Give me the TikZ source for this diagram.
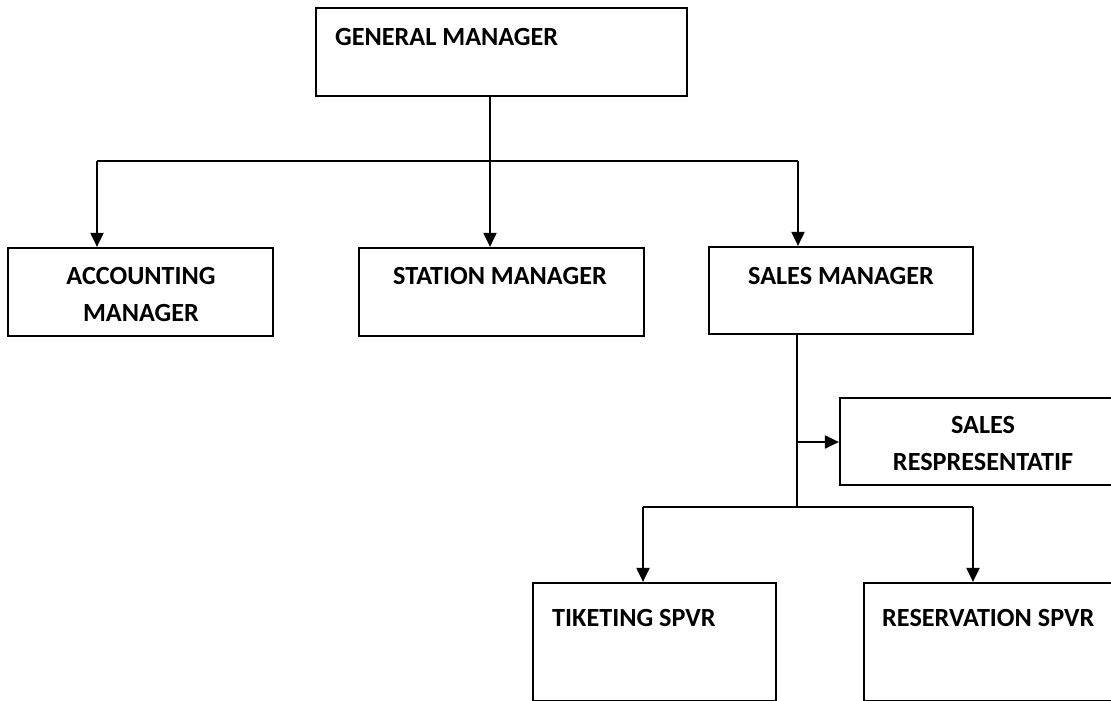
\documentclass[tikz,border=0pt]{standalone}
\usepackage{fontspec}
\setmainfont{Carlito}
\usetikzlibrary{arrows.meta}
\tikzset{
  box/.style={draw, line width=2.2pt, rectangle, inner sep=0pt},
  lbl/.style={inner sep=0pt, font=\bfseries\fontsize{26.2}{37}\selectfont, align=center},
  conn/.style={line width=2pt},
  arr/.style={line width=2pt, -{Triangle[length=14pt,width=13pt]}}
}
\begin{document}
\begin{tikzpicture}[x=1pt,y=-1pt]
\useasboundingbox (0,0) rectangle (1111,701);
\clip (0,0) rectangle (1111,701);
% boxes
\node[box, minimum width=371pt, minimum height=88pt] (gm) at (501.5,52) {};
\node[box, minimum width=265pt, minimum height=88pt] (acc) at (140.5,292) {};
\node[box, minimum width=285pt, minimum height=88pt] (stn) at (501.5,292) {};
\node[box, minimum width=264pt, minimum height=87pt] (sls) at (841,290.5) {};
\node[box, minimum width=276pt, minimum height=87pt] (rep) at (978,441.5) {};
\node[box, minimum width=243pt, minimum height=118pt] (tik) at (654.5,642) {};
\node[box, minimum width=252pt, minimum height=118pt] (res) at (990,642) {};
% labels
\node[lbl, anchor=west] (tgm) at (335,37) {GENERAL MANAGER};
\node[lbl] (tacc) at (141,294.5) {ACCOUNTING\\MANAGER};
\node[lbl, anchor=west] (tstn) at (393,276) {STATION MANAGER};
\node[lbl] (tsls) at (841,276) {SALES MANAGER};
\node[lbl] (trep) at (983,443.5) {SALES\\RESPRESENTATIF};
\node[lbl, anchor=west] (ttik) at (552,618) {TIKETING SPVR};
\node[lbl, anchor=west] (tres) at (882,618) {RESERVATION SPVR};
% connectors
\coordinate (j1) at (490,161);
\coordinate (hl) at (97,161);
\coordinate (hr) at (798,161);
\draw[conn] (gm.south -| j1) -- (j1);
\draw[conn] (hl) -- (hr);
\draw[arr] (hl) -- (acc.north -| hl);
\draw[arr] (j1) -- (stn.north -| j1);
\draw[arr] (hr) -- (sls.north -| hr);
\coordinate (v) at (797,507);
\coordinate (b) at (797,442);
\coordinate (ll) at (643,507);
\coordinate (lr) at (973,507);
\draw[conn] (sls.south -| v) -- (v);
\draw[arr] (b) -- (rep.west |- b);
\draw[conn] (ll) -- (lr);
\draw[arr] (ll) -- (tik.north -| ll);
\draw[arr] (lr) -- (res.north -| lr);
\end{tikzpicture}
\end{document}
